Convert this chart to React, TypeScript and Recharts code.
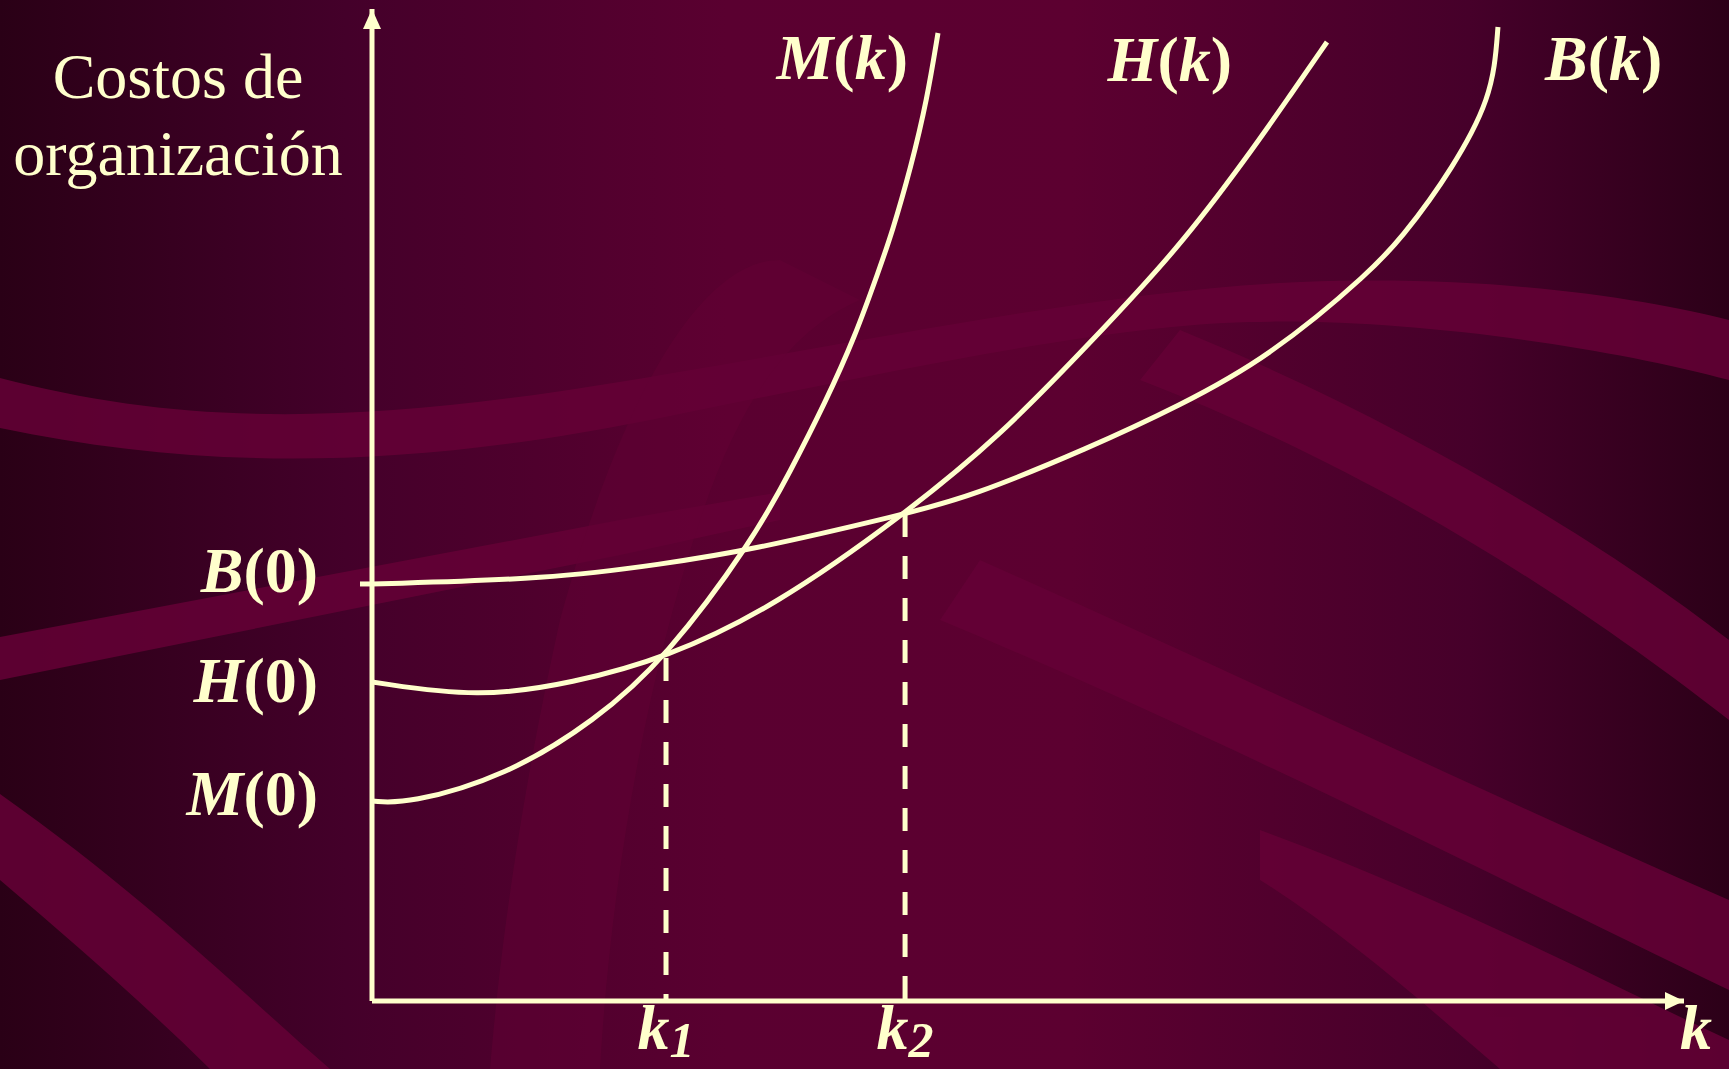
import React from 'react';
import { LineChart, Line, XAxis, YAxis, ReferenceLine, ReferenceDot } from 'recharts';

// k values and organisation cost for each governance form
const kM = [0, 2.74, 10.21, 16.99, 22.41, 29.04, 31.94, 34.53, 36.81, 38.64, 39.63, 41.08, 42.3, 43.14];
const costM = [20.16, 19.86, 22.68, 28.23, 34.58, 46.47, 53.53, 60.28, 66.94, 73.69, 77.42, 84.07, 90.83, 97.58];

const kH = [0, 8.16, 15.32, 22.41, 30.64, 40.63, 47.87, 54.65, 61.51, 66.92, 69.74, 72.79];
const costH = [32.16, 30.54, 32.06, 34.58, 39.72, 49.09, 56.96, 66.23, 75.91, 85.48, 90.83, 96.67];

const kB = [0, 13.64, 22.1, 28.58, 40.63, 45.58, 54.65, 61.51, 68.29, 76.3, 78.73, 80.64, 82.32, 83.84, 84.98, 85.59, 85.82];
const costB = [42.04, 42.54, 44.05, 45.36, 49.09, 50.81, 55.75, 59.98, 64.82, 73.69, 77.42, 80.75, 84.07, 87.5, 90.83, 94.15, 98.19];

// critical points
const k1 = 22.41;
const k2 = 40.63;
const cost1 = 34.58;
const cost2 = 49.09;
const kMax = 100;
const costMax = 100;

const xTicks = [k1, k2, kMax];
const xTickSubs = ['1', '2', ''];
const yTicks = [costM[0], costH[0], costB[0]];
const yTickNames = ['M', 'H', 'B'];

const CREAM = '#ffffcc';
const SERIF = '"Liberation Serif", "Times New Roman", serif';

const toRows = (ks: number[], vs: number[]) => ks.map((k, i) => ({ k, cost: vs[i] }));
const dataM = toRows(kM, costM);
const dataH = toRows(kH, costH);
const dataB = toRows(kB, costB);

const yNudge: Record<string, number> = { B: 8, H: 20, M: 14 };

const YTick = (props: any) => {
  const { x, y, payload } = props;
  const i = yTicks.indexOf(payload.value);
  const name = yTickNames[i];
  return (
    <g>
      {name === 'B' && <line x1={x + 42} x2={x + 54} y1={y} y2={y} stroke={CREAM} strokeWidth={5} />}
      <text x={x} y={y + yNudge[name]} textAnchor="end" fill={CREAM} fontFamily={SERIF} fontSize={64} fontWeight="bold">
        <tspan fontStyle="italic">{name}</tspan>(0)
      </text>
    </g>
  );
};

const XTick = (props: any) => {
  const { x, y, payload } = props;
  const i = xTicks.indexOf(payload.value);
  const sub = xTickSubs[i];
  if (!sub) {
    return (
      <text x={x + 12} y={y} textAnchor="middle" fill={CREAM} fontFamily={SERIF} fontSize={64} fontWeight="bold" fontStyle="italic">
        k
      </text>
    );
  }
  return (
    <text x={x} y={y} textAnchor="middle" fill={CREAM} fontFamily={SERIF} fontSize={64} fontWeight="bold" fontStyle="italic">
      k<tspan dy={8} fontSize={50}>{sub}</tspan>
    </text>
  );
};

const endLabel = (letter: string, last: number, dx: number, dy: number, anchor: 'start' | 'end') => (p: any) => {
  if (p.index !== last) return <g key={p.index} />;
  const x = p.x ?? p.viewBox?.x;
  const y = p.y ?? p.viewBox?.y;
  return (
    <text key={p.index} x={x + dx} y={y + dy} textAnchor={anchor} fill={CREAM} fontFamily={SERIF} fontSize={64} fontWeight="bold">
      <tspan fontStyle="italic">{letter}</tspan>(<tspan fontStyle="italic">k</tspan>)
    </text>
  );
};

const YTitle = (props: any) => {
  const vb = props.viewBox || { x: 0, y: 9, width: 372 };
  const cx = vb.x + vb.width / 2 - 8;
  return (
    <text x={cx} y={vb.y + 89} textAnchor="middle" fill={CREAM} fontFamily={SERIF} fontSize={64}>
      <tspan x={cx}>Costos de</tspan>
      <tspan x={cx} dy={77}>organización</tspan>
    </text>
  );
};

const arrowUp = (p: any) => (
  <polygon points={`${p.cx},${p.cy} ${p.cx - 9},${p.cy + 20} ${p.cx + 9},${p.cy + 20}`} fill={CREAM} />
);
const arrowRight = (p: any) => (
  <polygon points={`${p.cx},${p.cy} ${p.cx - 19},${p.cy - 9} ${p.cx - 19},${p.cy + 9}`} fill={CREAM} />
);

const Backdrop = () => (
  <svg width={1729} height={1069} style={{ position: 'absolute', left: 0, top: 0 }}>
    <defs>
      <linearGradient id="bg" x1="0" y1="0" x2="1" y2="0">
        <stop offset="0%" stopColor="#2a0016" />
        <stop offset="20%" stopColor="#44002a" />
        <stop offset="42%" stopColor="#5a0030" />
        <stop offset="62%" stopColor="#5c0030" />
        <stop offset="85%" stopColor="#46002a" />
        <stop offset="100%" stopColor="#2c0018" />
      </linearGradient>
    </defs>
    <rect width={1729} height={1069} fill="url(#bg)" />
    <g fill="#650036" opacity={0.85}>
      <path d="M0,378 C180,425 350,425 600,385 S1100,290 1300,282 S1650,300 1729,320 L1729,380 C1600,345 1400,318 1250,322 S900,370 650,420 S200,470 0,428 Z" />
      <path d="M0,637 L620,520 L780,492 L780,520 L620,555 L0,680 Z" />
      <path d="M0,794 C150,900 250,1000 330,1069 L210,1069 C140,1000 70,940 0,880 Z" />
      <path d="M1180,330 C1400,420 1600,540 1729,640 L1729,720 C1600,620 1400,480 1140,380 Z" />
      <path d="M980,560 C1250,680 1500,800 1729,900 L1729,990 C1500,880 1250,750 940,620 Z" />
      <path d="M1260,830 C1450,900 1600,980 1729,1040 L1729,1069 L1500,1069 C1420,1000 1340,930 1260,880 Z" />
      <path d="M780,260 C700,260 620,400 560,620 C520,800 500,950 490,1069 L600,1069 C610,900 640,700 700,520 C740,400 790,330 860,300 Z" opacity={0.5} />
    </g>
  </svg>
);

export default function App() {
  return (
    <div style={{ position: 'absolute', left: 0, top: 0, width: 1729, height: 1069, overflow: 'hidden' }}>
      <Backdrop />
      <div style={{ position: 'absolute', left: 0, top: 0 }}>
        <LineChart width={1729} height={1069} margin={{ top: 9, right: 45, bottom: 0, left: 0 }}>
          <XAxis
            type="number"
            dataKey="k"
            domain={[0, kMax]}
            ticks={xTicks}
            interval={0}
            height={68}
            axisLine={{ stroke: CREAM, strokeWidth: 5 }}
            tickLine={false}
            tickSize={0}
            tickMargin={48}
            tick={<XTick />}
            allowDataOverflow
          />
          <YAxis
            type="number"
            dataKey="cost"
            domain={[0, costMax]}
            ticks={yTicks}
            interval={0}
            width={372}
            axisLine={{ stroke: CREAM, strokeWidth: 5 }}
            tickLine={false}
            tickSize={0}
            tickMargin={54}
            tick={<YTick />}
            label={{ content: <YTitle /> }}
            allowDataOverflow
          />
          <Line data={dataM} dataKey="cost" type="basis" stroke={CREAM} strokeWidth={5} dot={false} isAnimationActive={false}
            label={endLabel('M', dataM.length - 1, -30, 46, 'end')} />
          <Line data={dataH} dataKey="cost" type="basis" stroke={CREAM} strokeWidth={5} dot={false} isAnimationActive={false}
            label={endLabel('H', dataH.length - 1, -95, 39, 'end')} />
          <Line data={dataB} dataKey="cost" type="basis" stroke={CREAM} strokeWidth={5} dot={false} isAnimationActive={false}
            label={endLabel('B', dataB.length - 1, 47, 53, 'start')} />
          <ReferenceLine segment={[{ x: k1, y: cost1 }, { x: k1, y: 0 }]} stroke={CREAM} strokeWidth={5} strokeDasharray="23 19" />
          <ReferenceLine segment={[{ x: k2, y: cost2 }, { x: k2, y: 0 }]} stroke={CREAM} strokeWidth={5} strokeDasharray="23 19" />
          <ReferenceDot x={0} y={costMax} r={0} shape={arrowUp} />
          <ReferenceDot x={kMax} y={0} r={0} shape={arrowRight} />
        </LineChart>
      </div>
    </div>
  );
}
